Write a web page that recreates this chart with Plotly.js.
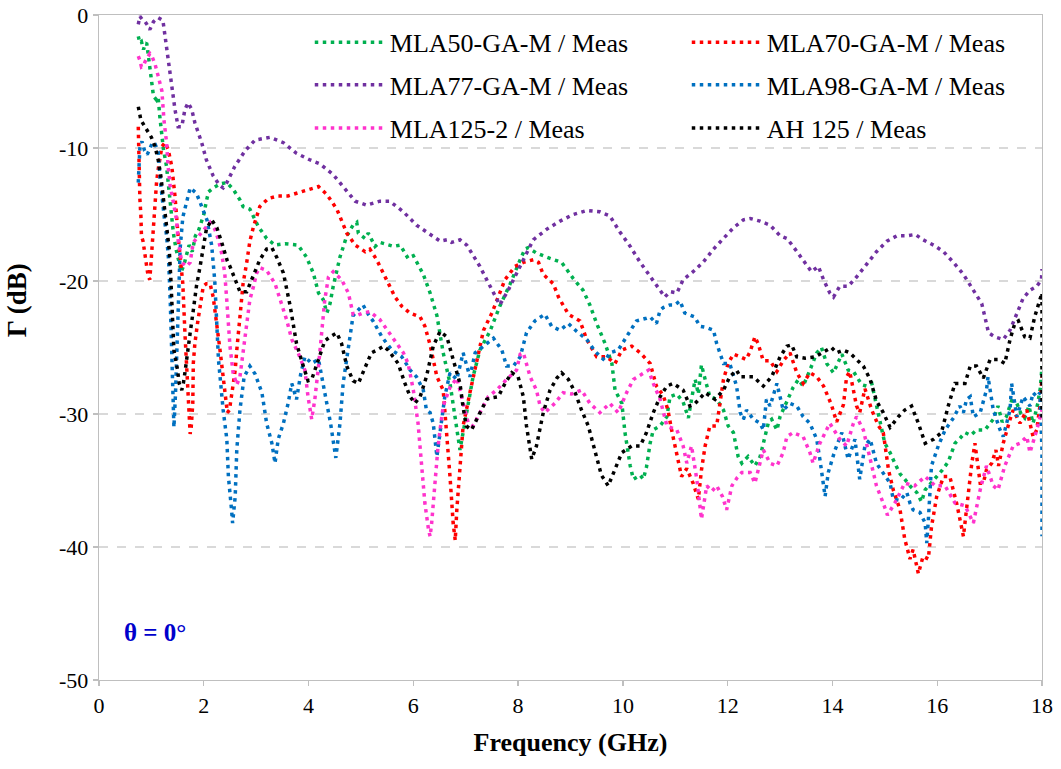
<!DOCTYPE html>
<html>
<head>
<meta charset="utf-8">
<script src="https://cdn.plot.ly/plotly-3.0.1.min.js"></script>
<style>
html,body{margin:0;padding:0;background:#fff;}
#chart{width:1061px;height:769px;}
</style>
</head>
<body>
<div id="chart"></div>
<script>
// ---- data (frequency in GHz, reflection in dB) ----
const seriesNames = ["MLA50-GA-M / Meas", "MLA70-GA-M / Meas", "MLA77-GA-M / Meas", "MLA98-GA-M / Meas", "MLA125-2 / Meas", "AH 125 / Meas"];
const seriesColors = ["#00B050", "#FF0000", "#7030A0", "#0070C0", "#FF33CC", "#000000"];

const mla50F = [0.75,0.78,0.81,0.85,0.88,0.91,0.94,0.97,1.00,1.04,1.10,1.13,1.16,1.20,1.23,1.29,1.32,1.36,1.39,1.42,1.47,1.52,1.57,1.62,1.67,1.72,1.78,1.84,1.90,1.95,2.00,2.05,2.09,2.18,2.31,2.44,2.56,2.69,2.75,2.88,3.04,3.20,3.36,3.55,3.80,3.96,4.09,4.19,4.28,4.35,4.41,4.47,4.60,4.73,4.85,4.92,4.95,5.08,5.14,5.27,5.36,5.62,5.75,5.90,6.00,6.19,6.32,6.45,6.57,6.70,6.80,6.89,6.95,7.05,7.14,7.27,7.46,7.65,7.85,8.04,8.13,8.19,8.35,8.61,8.83,9.05,9.24,9.37,9.50,9.66,9.79,9.85,9.98,10.04,10.14,10.20,10.33,10.39,10.45,10.52,10.58,10.71,10.84,10.90,11.03,11.15,11.25,11.31,11.38,11.44,11.50,11.57,11.66,11.79,11.92,12.01,12.11,12.20,12.27,12.39,12.52,12.62,12.71,12.78,12.84,12.94,13.00,13.13,13.25,13.35,13.44,13.57,13.70,13.79,13.89,14.02,14.14,14.18,14.30,14.40,14.56,14.65,14.75,14.81,14.91,15.00,15.10,15.19,15.29,15.38,15.50,15.61,15.70,15.77,15.88,15.99,16.10,16.21,16.34,16.44,16.53,16.64,16.75,16.91,17.07,17.16,17.24,17.32,17.42,17.52,17.60,17.67,17.75,17.83,17.92,17.97,18.00];
const mla50G = [-1.6,-2.1,-2.0,-2.6,-2.2,-2.1,-3.0,-4.0,-5.1,-6.1,-6.4,-6.2,-7.6,-8.9,-10.1,-11.4,-12.6,-13.9,-15.1,-16.4,-17.6,-18.6,-19.3,-18.8,-17.9,-17.3,-17.8,-16.6,-16.2,-15.6,-15.0,-14.0,-13.3,-13.0,-12.7,-12.6,-13.1,-13.9,-14.4,-14.6,-15.9,-16.8,-17.3,-17.2,-17.3,-18.2,-19.4,-20.9,-21.4,-22.4,-21.7,-20.4,-18.2,-16.6,-15.8,-15.6,-16.4,-16.8,-16.4,-17.4,-17.1,-17.4,-17.3,-18.3,-18.1,-19.5,-20.9,-22.6,-25.4,-27.7,-30.2,-32.7,-31.4,-29.2,-27.2,-25.2,-23.8,-21.9,-20.2,-18.4,-17.6,-17.5,-17.9,-18.3,-18.6,-19.8,-20.7,-21.8,-23.2,-24.7,-26.2,-28.2,-29.2,-31.4,-33.9,-34.9,-34.6,-34.9,-34.0,-32.2,-31.2,-30.9,-30.2,-28.7,-28.5,-29.1,-30.3,-28.9,-27.4,-28.5,-26.3,-27.4,-28.7,-28.9,-29.7,-30.9,-31.4,-33.2,-33.7,-33.2,-33.9,-33.2,-31.8,-30.6,-30.4,-31.2,-30.2,-29.1,-28.0,-27.4,-27.9,-26.7,-25.4,-25.0,-26.2,-26.9,-25.8,-25.5,-26.7,-26.8,-27.8,-27.9,-27.7,-28.9,-30.6,-32.2,-32.9,-33.7,-34.5,-34.9,-35.5,-35.9,-36.6,-35.7,-35.2,-34.7,-34.2,-33.6,-32.2,-31.8,-31.4,-31.6,-31.2,-31.2,-30.4,-29.4,-30.6,-30.2,-29.0,-29.2,-30.0,-30.3,-29.4,-30.7,-29.2,-28.0,-26.4];

const mla70F = [0.75,0.76,0.77,0.78,0.80,0.81,0.84,0.88,0.91,0.94,0.97,1.00,1.02,1.04,1.07,1.10,1.13,1.17,1.20,1.26,1.32,1.39,1.45,1.51,1.55,1.58,1.60,1.64,1.67,1.70,1.72,1.74,1.76,1.79,1.80,1.83,1.88,1.93,1.99,2.05,2.12,2.18,2.25,2.31,2.37,2.42,2.45,2.49,2.53,2.56,2.60,2.63,2.66,2.69,2.75,2.82,2.88,2.95,3.07,3.23,3.42,3.61,3.84,4.09,4.19,4.35,4.54,4.73,4.89,5.08,5.17,5.30,5.49,5.65,5.78,5.93,6.13,6.22,6.32,6.45,6.57,6.64,6.70,6.76,6.80,6.83,6.88,6.95,7.08,7.21,7.34,7.50,7.62,7.75,7.94,8.10,8.29,8.39,8.48,8.67,8.77,8.96,9.18,9.31,9.50,9.69,9.85,9.98,10.17,10.33,10.52,10.64,10.77,10.86,10.93,11.03,11.12,11.22,11.34,11.44,11.50,11.57,11.66,11.79,11.85,11.92,12.01,12.11,12.24,12.35,12.43,12.52,12.58,12.68,12.81,12.94,13.06,13.19,13.32,13.44,13.57,13.70,13.83,13.98,14.08,14.21,14.27,14.33,14.46,14.52,14.62,14.75,14.88,14.97,15.07,15.16,15.29,15.38,15.48,15.54,15.64,15.73,15.83,15.89,15.99,16.12,16.24,16.37,16.50,16.56,16.66,16.72,16.82,16.88,16.94,17.04,17.12,17.17,17.26,17.39,17.45,17.58,17.71,17.83,17.90,17.96,18.00];
const mla70G = [-8.4,-10.5,-12.9,-13.8,-15.1,-16.6,-17.0,-18.2,-19.0,-19.7,-19.9,-18.2,-17.0,-15.9,-13.6,-12.5,-11.6,-10.6,-9.9,-9.6,-10.1,-11.4,-13.6,-16.6,-18.0,-19.1,-20.2,-23.9,-26.4,-28.2,-29.9,-31.5,-31.0,-29.2,-26.2,-24.7,-23.2,-22.0,-20.4,-20.2,-20.2,-21.2,-23.2,-25.2,-27.2,-28.9,-29.9,-29.7,-28.7,-27.7,-26.7,-25.2,-23.9,-22.2,-20.2,-18.6,-17.0,-15.9,-14.4,-13.8,-13.6,-13.6,-13.3,-13.0,-12.9,-13.5,-14.6,-16.4,-17.3,-17.8,-17.6,-18.4,-19.9,-21.2,-21.9,-22.4,-22.7,-23.4,-24.8,-27.2,-28.2,-31.4,-34.7,-38.2,-39.5,-37.2,-34.2,-30.9,-28.4,-25.9,-23.7,-22.4,-21.2,-19.9,-18.9,-18.6,-18.4,-18.6,-19.5,-20.2,-21.2,-22.5,-23.0,-24.4,-25.7,-25.7,-26.2,-25.2,-24.9,-25.4,-26.2,-27.9,-28.6,-29.7,-31.2,-33.2,-34.7,-34.1,-35.2,-36.4,-34.2,-32.4,-30.9,-30.9,-29.4,-27.4,-26.2,-25.5,-25.7,-25.9,-25.3,-24.2,-24.7,-26.0,-26.0,-26.8,-26.0,-25.4,-26.9,-27.7,-26.9,-27.2,-27.9,-29.3,-30.6,-29.3,-27.2,-26.8,-29.4,-29.9,-28.1,-29.7,-30.9,-31.4,-34.2,-35.7,-37.2,-39.4,-40.9,-40.2,-42.0,-40.7,-40.9,-38.5,-36.2,-34.7,-34.7,-36.7,-39.2,-36.9,-33.7,-32.2,-35.2,-35.2,-34.2,-33.7,-32.7,-33.9,-32.2,-30.4,-29.7,-30.7,-29.7,-31.7,-31.2,-29.4,-27.2];

const mla77F = [0.75,0.78,0.82,0.88,0.93,0.97,1.04,1.13,1.22,1.26,1.32,1.37,1.45,1.51,1.58,1.64,1.70,1.77,1.83,1.96,2.05,2.18,2.30,2.37,2.44,2.59,2.79,2.98,3.26,3.52,3.77,4.03,4.22,4.47,4.73,4.89,5.11,5.36,5.55,5.81,6.06,6.38,6.51,6.64,6.73,6.89,7.02,7.27,7.46,7.65,7.81,8.04,8.29,8.55,8.80,9.05,9.31,9.56,9.75,9.94,10.14,10.33,10.52,10.71,10.80,10.90,11.03,11.15,11.34,11.53,11.73,11.92,12.11,12.30,12.43,12.62,12.81,13.00,13.13,13.25,13.38,13.51,13.60,13.73,13.83,13.95,14.02,14.14,14.30,14.46,14.65,14.84,15.04,15.23,15.42,15.58,15.73,15.93,16.12,16.31,16.50,16.69,16.85,16.91,16.98,17.10,17.26,17.39,17.52,17.64,17.77,17.90,17.99,18.00];
const mla77G = [-0.7,-0.1,-0.3,-0.5,-0.8,-1.1,-0.5,-0.2,-0.4,-1.6,-2.9,-4.6,-7.1,-8.4,-8.4,-7.1,-6.6,-7.1,-8.1,-9.6,-10.9,-12.1,-12.8,-13.0,-12.6,-11.4,-10.2,-9.4,-9.2,-9.6,-10.4,-10.9,-11.2,-12.0,-13.3,-14.0,-14.3,-14.0,-14.0,-14.8,-15.8,-16.6,-17.0,-16.9,-17.1,-16.9,-17.3,-18.9,-20.4,-21.8,-20.7,-18.9,-16.9,-16.1,-15.5,-15.0,-14.7,-14.8,-15.1,-16.3,-17.4,-18.6,-19.7,-20.7,-21.2,-20.8,-20.9,-19.9,-19.3,-18.6,-17.6,-16.8,-16.0,-15.4,-15.3,-15.5,-15.8,-16.6,-16.8,-17.4,-18.1,-18.9,-19.3,-18.9,-19.9,-20.9,-21.2,-20.4,-20.4,-19.7,-18.8,-17.8,-17.0,-16.6,-16.6,-16.5,-16.9,-17.3,-17.8,-18.6,-19.5,-20.7,-21.7,-22.7,-23.9,-24.2,-24.4,-23.7,-22.4,-21.3,-20.7,-20.4,-19.9,-19.1];

const mla98F = [0.75,0.76,0.78,0.82,0.87,0.92,0.97,1.02,1.07,1.13,1.16,1.20,1.25,1.29,1.33,1.36,1.38,1.40,1.43,1.46,1.49,1.52,1.55,1.60,1.67,1.74,1.80,1.86,1.96,2.06,2.15,2.21,2.28,2.33,2.37,2.44,2.47,2.53,2.55,2.60,2.63,2.69,2.77,2.88,2.98,3.11,3.20,3.30,3.36,3.42,3.52,3.61,3.68,3.77,3.85,3.93,4.06,4.19,4.31,4.42,4.52,4.60,4.66,4.76,4.85,4.92,5.04,5.14,5.23,5.40,5.59,5.78,5.94,6.06,6.19,6.25,6.32,6.38,6.45,6.51,6.60,6.70,6.83,6.95,7.08,7.18,7.40,7.53,7.69,7.78,7.91,8.04,8.16,8.32,8.51,8.64,8.80,8.96,9.12,9.31,9.47,9.66,9.75,9.91,10.10,10.26,10.45,10.52,10.64,10.71,10.77,10.90,10.99,11.09,11.18,11.37,11.47,11.60,11.73,11.79,11.92,12.04,12.17,12.24,12.30,12.36,12.49,12.62,12.68,12.74,12.81,12.94,13.06,13.19,13.32,13.44,13.57,13.70,13.76,13.86,13.92,14.05,14.18,14.30,14.43,14.52,14.62,14.72,14.84,14.97,15.10,15.16,15.29,15.42,15.48,15.54,15.67,15.77,15.80,15.83,15.86,15.89,16.02,16.15,16.31,16.43,16.50,16.56,16.63,16.69,16.82,16.94,16.97,17.07,17.20,17.26,17.39,17.42,17.52,17.64,17.77,17.83,17.90,17.96,18.00,18.00];
const mla98G = [-12.6,-11.0,-10.0,-9.5,-10.2,-10.5,-10.0,-9.6,-9.7,-10.3,-12.0,-13.8,-15.4,-16.6,-18.5,-21.5,-25.0,-28.0,-31.0,-28.5,-24.5,-20.5,-17.5,-15.2,-14.1,-13.0,-13.2,-13.4,-14.4,-15.4,-17.3,-20.0,-25.9,-28.0,-29.7,-31.9,-34.7,-37.2,-38.2,-36.2,-32.7,-29.7,-27.2,-26.4,-27.0,-28.4,-30.7,-32.2,-33.7,-31.9,-30.7,-29.2,-27.7,-28.9,-27.0,-25.7,-26.2,-25.9,-28.4,-30.7,-33.3,-30.7,-27.7,-24.9,-22.6,-22.3,-21.8,-22.5,-23.0,-24.2,-25.2,-25.7,-26.7,-27.2,-28.2,-29.7,-29.9,-30.7,-33.2,-31.4,-28.7,-26.9,-27.4,-25.4,-27.2,-25.4,-24.7,-24.3,-25.2,-26.4,-26.4,-25.7,-23.9,-23.0,-22.5,-23.4,-23.7,-23.2,-23.8,-24.4,-25.3,-26.0,-25.4,-25.2,-24.0,-23.0,-22.8,-22.7,-23.2,-22.2,-22.0,-21.8,-21.8,-21.5,-22.4,-22.7,-23.4,-23.5,-23.7,-24.7,-26.2,-26.2,-27.9,-29.9,-30.4,-29.7,-30.4,-30.7,-31.2,-28.9,-29.4,-27.7,-29.7,-29.2,-29.4,-30.2,-30.7,-31.9,-33.4,-36.2,-34.4,-32.7,-31.4,-33.4,-31.9,-34.9,-32.4,-31.9,-33.7,-34.4,-35.2,-36.4,-36.5,-35.9,-36.7,-37.2,-37.4,-38.2,-39.7,-38.0,-35.7,-33.9,-32.4,-31.2,-30.3,-29.4,-29.9,-28.9,-28.7,-30.2,-29.9,-28.2,-27.2,-29.7,-31.2,-31.7,-29.7,-27.7,-30.2,-28.7,-29.4,-28.4,-28.7,-28.4,-32.7,-39.2];

const mla125F = [0.75,0.78,0.81,0.85,0.88,0.97,1.02,1.07,1.13,1.20,1.24,1.29,1.32,1.36,1.42,1.48,1.51,1.58,1.67,1.74,1.80,1.93,2.05,2.12,2.21,2.28,2.34,2.40,2.44,2.50,2.56,2.63,2.69,2.75,2.82,2.88,2.95,3.01,3.07,3.20,3.36,3.49,3.58,3.68,3.80,3.93,3.99,4.06,4.12,4.19,4.25,4.31,4.38,4.47,4.63,4.76,4.85,4.92,5.04,5.17,5.36,5.62,5.81,5.90,6.00,6.09,6.16,6.22,6.29,6.32,6.35,6.41,6.47,6.51,6.57,6.70,6.83,6.92,7.05,7.14,7.27,7.43,7.59,7.78,7.97,8.04,8.10,8.23,8.35,8.42,8.51,8.70,8.86,9.02,9.21,9.37,9.56,9.75,9.91,10.07,10.20,10.39,10.49,10.58,10.71,10.84,11.03,11.15,11.22,11.31,11.41,11.50,11.60,11.70,11.79,11.90,11.98,12.08,12.18,12.27,12.43,12.52,12.68,12.81,12.94,13.06,13.13,13.25,13.44,13.57,13.63,13.76,13.95,14.14,14.27,14.40,14.46,14.59,14.72,14.84,14.97,15.05,15.19,15.38,15.57,15.77,15.96,16.15,16.34,16.53,16.69,16.82,16.94,17.07,17.16,17.29,17.45,17.58,17.71,17.77,17.90,18.00];
const mla125G = [-3.1,-3.4,-3.9,-3.8,-3.5,-2.9,-3.2,-3.7,-4.6,-5.7,-7.9,-9.6,-11.4,-12.9,-14.1,-15.4,-16.9,-18.6,-18.9,-18.6,-17.1,-16.5,-15.9,-15.6,-16.1,-16.9,-17.9,-19.4,-21.5,-24.9,-26.9,-27.8,-27.2,-25.2,-23.2,-21.4,-20.4,-19.4,-19.0,-19.2,-20.2,-21.7,-22.9,-24.4,-25.4,-26.7,-28.7,-30.4,-28.9,-26.4,-24.2,-21.4,-19.7,-19.3,-19.9,-20.9,-22.5,-22.6,-22.4,-22.3,-22.9,-24.4,-25.4,-26.2,-28.2,-30.7,-33.9,-36.7,-38.7,-39.2,-38.2,-35.2,-32.5,-31.2,-29.4,-28.0,-27.3,-28.7,-30.7,-30.9,-29.9,-28.7,-28.2,-27.4,-26.7,-25.5,-25.4,-27.2,-28.2,-29.4,-29.9,-29.2,-28.4,-28.5,-28.2,-29.2,-29.9,-29.2,-29.9,-28.4,-27.4,-26.9,-26.7,-27.7,-28.9,-30.9,-31.2,-32.4,-33.7,-32.4,-34.9,-37.9,-35.4,-35.8,-35.4,-36.2,-37.2,-35.4,-34.8,-34.4,-34.4,-35.2,-32.7,-33.7,-33.9,-32.9,-31.7,-31.4,-31.7,-32.9,-33.7,-32.2,-30.7,-31.9,-32.4,-30.7,-30.2,-31.2,-33.4,-35.4,-36.7,-37.6,-36.7,-35.2,-35.4,-34.7,-35.4,-35.4,-36.7,-36.9,-38.2,-35.7,-33.9,-35.4,-35.7,-33.9,-32.4,-32.2,-31.7,-32.9,-31.2,-29.7];

const ah125F = [0.75,0.80,0.86,0.91,1.00,1.07,1.13,1.18,1.22,1.26,1.29,1.34,1.37,1.39,1.43,1.50,1.53,1.58,1.61,1.64,1.67,1.70,1.74,1.80,1.86,1.93,1.99,2.05,2.15,2.25,2.35,2.45,2.50,2.60,2.69,2.82,2.95,3.07,3.20,3.30,3.39,3.52,3.65,3.77,3.90,3.99,4.06,4.19,4.31,4.41,4.54,4.63,4.73,4.85,4.95,5.08,5.20,5.30,5.43,5.52,5.71,5.84,5.94,6.03,6.13,6.25,6.38,6.51,6.64,6.76,6.89,6.95,7.01,7.11,7.20,7.27,7.40,7.46,7.62,7.75,7.88,8.00,8.10,8.16,8.23,8.26,8.35,8.48,8.61,8.74,8.83,8.96,9.09,9.21,9.34,9.47,9.59,9.72,9.85,9.98,10.17,10.33,10.45,10.58,10.71,10.84,10.96,11.15,11.28,11.38,11.57,11.76,11.92,12.04,12.17,12.24,12.49,12.68,12.84,13.00,13.13,13.22,13.32,13.48,13.67,13.89,13.98,14.08,14.21,14.33,14.46,14.59,14.72,14.84,14.97,15.10,15.26,15.38,15.51,15.64,15.77,15.93,16.08,16.21,16.34,16.53,16.63,16.75,16.88,17.01,17.16,17.29,17.39,17.48,17.55,17.67,17.77,17.86,17.96,18.00,18.00];
const ah125G = [-6.9,-7.9,-8.3,-8.6,-9.2,-9.9,-10.9,-12.1,-13.6,-14.6,-16.1,-17.6,-19.7,-22.0,-25.2,-26.7,-27.7,-28.2,-27.7,-26.9,-25.9,-24.9,-23.9,-22.2,-20.4,-18.9,-17.6,-16.1,-15.4,-16.0,-17.2,-18.5,-18.9,-20.0,-20.8,-20.8,-19.6,-18.4,-17.6,-17.5,-18.2,-19.4,-21.9,-24.7,-26.4,-27.5,-27.4,-25.9,-24.5,-24.2,-23.9,-24.7,-26.4,-27.5,-27.7,-26.5,-25.4,-25.2,-24.9,-25.2,-26.2,-27.7,-28.7,-29.2,-28.7,-27.2,-24.9,-23.8,-24.2,-25.9,-27.7,-29.5,-30.9,-31.2,-30.5,-29.9,-28.9,-28.8,-28.7,-27.7,-26.9,-27.2,-28.7,-30.9,-32.9,-33.4,-32.4,-29.9,-28.2,-27.3,-26.9,-27.4,-28.4,-29.7,-30.9,-32.9,-34.6,-35.4,-34.2,-32.9,-32.4,-32.4,-31.4,-29.9,-28.7,-27.9,-27.7,-28.2,-29.4,-29.2,-28.4,-28.9,-28.2,-27.2,-26.7,-27.2,-27.2,-27.9,-27.2,-25.7,-24.9,-24.8,-25.7,-25.8,-25.7,-25.2,-25.0,-25.4,-25.2,-25.4,-25.9,-26.4,-27.4,-29.0,-29.9,-31.0,-30.2,-29.7,-29.4,-30.7,-32.2,-31.9,-31.4,-29.4,-27.7,-27.7,-26.4,-26.4,-27.3,-25.9,-25.9,-26.2,-24.4,-23.2,-23.0,-24.2,-24.3,-22.7,-21.4,-20.9,-30.5];

const xTicks = [0,2,4,6,8,10,12,14,16,18];
const yTicks = [-50,-40,-30,-20,-10,0];
const yTickText = ["-50","-40","-30","-20","-10","0"];

const seriesF = [mla50F, mla70F, mla77F, mla98F, mla125F, ah125F];
const seriesG = [mla50G, mla70G, mla77G, mla98G, mla125G, ah125G];
// legend rows: two entries per row, like the reference
const legendRow = ['legend', 'legend', 'legend2', 'legend2', 'legend3', 'legend3'];

const FONT = "'Liberation Serif', 'Times New Roman', serif";

const traces = seriesNames.map((name, i) => ({
  type: 'scatter',
  mode: 'lines',
  name: name,
  legend: legendRow[i],
  x: seriesF[i],
  y: seriesG[i],
  line: {color: seriesColors[i], width: 3.5, dash: '3.5px,4.5px'},
  hoverinfo: 'x+y+name'
}));

const axisCommon = {
  showline: true, linecolor: '#BFBFBF', linewidth: 1.3, mirror: true,
  ticks: 'outside', ticklen: 5, tickcolor: '#BFBFBF', tickwidth: 1.3,
  zeroline: false,
  tickfont: {family: FONT, size: 22, color: '#000'}
};

function legendRowCfg(yPos) {
  return {
    orientation: 'h', x: 0.2235, xanchor: 'left', y: yPos, yanchor: 'middle',
    bgcolor: 'rgba(0,0,0,0)', borderwidth: 0,
    font: {family: FONT, size: 26, color: '#000'},
    itemwidth: 70, entrywidth: 292, entrywidthmode: 'pixels',
    traceorder: 'normal'
  };
}

const layout = {
  width: 1061, height: 769,
  margin: {l: 99, r: 19, t: 15, b: 89, autoexpand: false},
  paper_bgcolor: '#fff', plot_bgcolor: '#fff',
  font: {family: FONT, color: '#000'},
  showlegend: true,
  legend: legendRowCfg(0.959),
  legend2: legendRowCfg(0.895),
  legend3: legendRowCfg(0.830),
  xaxis: Object.assign({}, axisCommon, {
    range: [0, 18], tickvals: xTicks, showgrid: false,
    title: {text: '<b>Frequency (GHz)</b>', font: {family: FONT, size: 26, color: '#000'}, standoff: 16}
  }),
  yaxis: Object.assign({}, axisCommon, {
    range: [-50, 0], tickvals: yTicks, ticktext: yTickText,
    showgrid: true, gridcolor: '#D9D9D9', gridwidth: 1.3, griddash: 'dash',
    title: {text: '&nbsp;&nbsp;&nbsp;&nbsp;&nbsp;&nbsp;&nbsp;&nbsp;&nbsp;&nbsp;&nbsp;&nbsp;&nbsp;&nbsp;<b>Γ (dB)</b>', font: {family: FONT, size: 27, color: '#000'}, standoff: 24}
  }),
  annotations: [{
    xref: 'paper', yref: 'paper', x: 0.024, y: 0.071, xanchor: 'left', yanchor: 'middle',
    text: '<b>θ = 0°</b>', showarrow: false,
    font: {family: FONT, size: 25, color: '#0000CC'}
  }]
};

Plotly.newPlot('chart', traces, layout, {displayModeBar: false, staticPlot: true});
</script>
</body>
</html>
